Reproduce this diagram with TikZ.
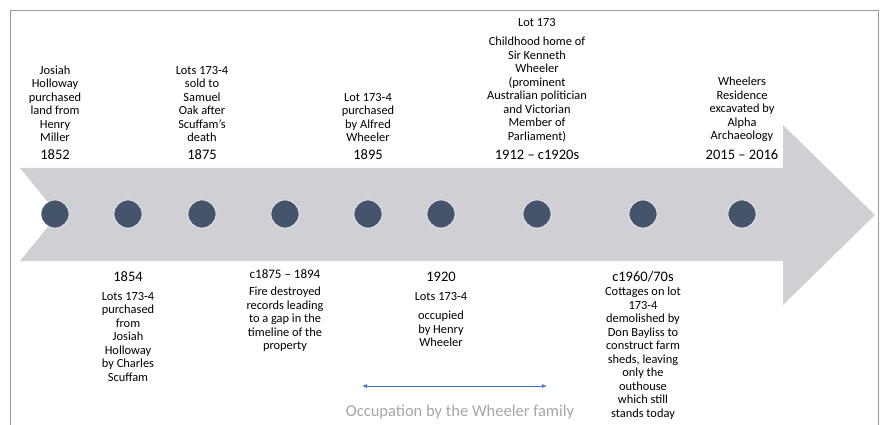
\documentclass[tikz,border=0pt]{standalone}
\usepackage{fontspec}
\setmainfont{Carlito}
\usetikzlibrary{arrows.meta}
\definecolor{bandgray}{HTML}{D0CFD4}
\definecolor{dotblue}{HTML}{44546A}
\definecolor{occblue}{HTML}{4472C4}
\definecolor{occgray}{HTML}{A6A6A6}
\begin{document}
\begin{tikzpicture}[x=1pt,y=-1pt,
  dot/.style={circle,fill=dotblue,draw=white,line width=.6pt,minimum size=28pt,inner sep=0pt},
  info/.style={align=center,font=\fontsize{12.4}{13.5}\selectfont,inner sep=0pt},
  yr/.style={font=\fontsize{14.5}{16}\selectfont,inner sep=0pt}]
\useasboundingbox (0,0) rectangle (887,425);
\draw[gray!80, line width=.8pt](10.5,425)--(10.5,10.5)--(878.5,10.5)--(878.5,425);
% band with notch and head
\fill[bandgray](20,168)--(783,168)--(783,125)--(875,215)--(783,305)--(783,261)--(20,261)--(58,214.5)--cycle;
\foreach \x [count=\i] in {55,128,202,285,368,441,537,643,742}
  \node[dot](d\i) at (\x,214){};
% above the band
\node[yr](y1852) at (55,155){1852};
\node[yr](y1875) at (202,155){1875};
\node[yr](y1895) at (368,155){1895};
\node[yr](y1912) at (537,155){1912 -- c1920s};
\node[yr](y2015) at (742,155){2015 -- 2016};
\node[info, anchor=south](t1852) at (55,142){Josiah\\Holloway\\purchased\\land from\\Henry\\Miller};
\node[info, anchor=south](t1875) at (202,142){Lots 173-4\\sold to\\Samuel\\Oak after\\Scuffam’s\\death};
\node[info, anchor=south](t1895) at (368,142){Lot 173-4\\purchased\\by Alfred\\Wheeler};
\node[info, anchor=south](t1912) at (537,142){Childhood home of\\Sir Kenneth\\Wheeler\\(prominent\\Australian politician\\and Victorian\\Member of\\Parliament)};
\node[info](lot173) at (537,23){Lot 173};
\node[info, anchor=south](t2015) at (742,142){Wheelers\\Residence\\excavated by\\Alpha\\Archaeology};
% below the band
\node[yr](y1854) at (128,277){1854};
\node[yr, font=\fontsize{13}{14}\selectfont](y1875b) at (285,274){c1875 -- 1894};
\node[yr](y1920) at (441,277){1920};
\node[yr](y1960) at (643,277){c1960/70s};
\node[info, anchor=north](t1854) at (128,292){Lots 173-4\\purchased\\from\\Josiah\\Holloway\\by Charles\\Scuffam};
\node[info, anchor=north](t1875b) at (285,287){Fire destroyed\\records leading\\to a gap in the\\timeline of the\\property};
\node[info, anchor=north](l1920) at (441,292){Lots 173-4};
\node[info, anchor=north](t1920) at (441,311){occupied\\by Henry\\Wheeler};
\node[info, anchor=north](t1960) at (643,287){Cottages on lot\\173-4\\demolished by\\Don Bayliss to\\construct farm\\sheds, leaving\\only the\\outhouse\\which still\\stands today};
% Wheeler occupation
\coordinate(occL) at (362,386);
\coordinate(occR) at (547,386);
\draw[occblue, line width=.7pt, {Latex[length=5pt,width=4pt]}-{Latex[length=5pt,width=4pt]}](occL)--(occR);
\node[text=occgray, font=\fontsize{16.5}{18}\selectfont, inner sep=0pt](occ) at (460,412){Occupation by the Wheeler family};
\end{tikzpicture}
\end{document}
